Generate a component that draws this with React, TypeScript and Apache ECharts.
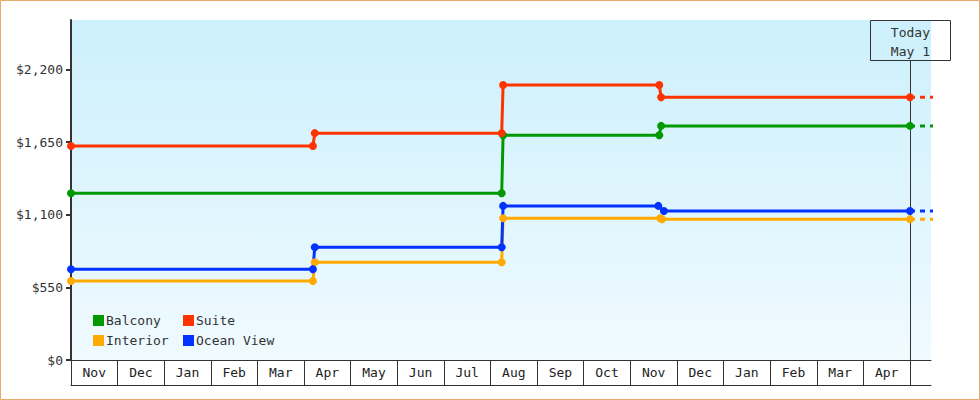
import React, { useEffect, useRef } from "react";
import * as echarts from "echarts";

// month boxes along the bottom, Nov (year 1) .. Apr (year 3); x values are months since Nov 1
const monthLabels = ["Nov", "Dec", "Jan", "Feb", "Mar", "Apr", "May", "Jun", "Jul", "Aug", "Sep", "Oct", "Nov", "Dec", "Jan", "Feb", "Mar", "Apr"];
const monthTicks = monthLabels.map((_, i) => i).concat([monthLabels.length]);
const yTicks = [0, 550, 1100, 1650, 2200];
const todayX = 18;
const todayLines = ["Today", "May 1"];

const balcony = [[0, 1263], [9.24, 1263], [9.27, 1702], [12.62, 1702], [12.66, 1773], [18, 1773]];
const suite = [[0, 1621], [5.19, 1621], [5.23, 1718], [9.24, 1718], [9.27, 2083], [12.62, 2083], [12.66, 1990], [18, 1990]];
const interior = [[0, 598], [5.19, 598], [5.23, 740], [9.24, 740], [9.27, 1073], [12.64, 1073], [12.68, 1066], [18, 1066]];
const oceanView = [[0, 687], [5.19, 687], [5.23, 854], [9.24, 854], [9.27, 1167], [12.6, 1167], [12.72, 1128], [18, 1128]];

const FONT = "DejaVu Sans Mono";

const lines = [
  { name: "Balcony", color: "#009900", data: balcony },
  { name: "Suite", color: "#ff3300", data: suite },
  { name: "Interior", color: "#ffaa00", data: interior },
  { name: "Ocean View", color: "#0033ff", data: oceanView },
];

const App: React.FC = () => {
  const chartRef = useRef<HTMLDivElement>(null);

  useEffect(() => {
    if (!chartRef.current) return;
    const chart = echarts.init(chartRef.current, null, { renderer: "svg" });

    const xMax = 18.45;
    const solid = lines.map((l) => ({
      name: l.name,
      type: "line",
      color: l.color,
      data: l.data,
      symbol: "circle",
      symbolSize: 8,
      showAllSymbol: true,
      lineStyle: { width: 3, color: l.color },
      itemStyle: { color: l.color },
      z: 3,
    }));
    const dashed = lines.map((l) => {
      const last = l.data[l.data.length - 1];
      return {
        name: l.name + " (projected)",
        type: "line",
        data: [last, [last[0] + 1, last[1]]],
        symbol: "none",
        silent: true,
        lineStyle: { width: 3, color: l.color, type: [5, 5] },
        z: 2,
      };
    });

    const legendBase = {
      orient: "vertical",
      top: 309,
      itemWidth: 11,
      itemHeight: 11,
      itemGap: 7,
      icon: "rect",
      textStyle: { fontFamily: FONT, fontSize: 13, color: "#333", lineHeight: 13, padding: [0, 0, 0, -3] },
    };

    chart.setOption({
      animation: false,
      grid: {
        left: 71,
        right: 49,
        top: 20,
        bottom: 40,
        show: true,
        borderWidth: 0,
        backgroundColor: new echarts.graphic.LinearGradient(0, 0, 0, 1, [
          { offset: 0, color: "#ccf0fc" },
          { offset: 1, color: "#f0faff" },
        ]),
      },
      legend: [
        { ...legendBase, left: 88, data: ["Balcony", "Interior"] },
        { ...legendBase, left: 178, data: ["Suite", "Ocean View"] },
      ],
      xAxis: [
        {
          type: "value",
          min: 0,
          max: xMax,
          axisLine: { show: true, lineStyle: { color: "#333", width: 1 } },
          axisTick: { show: true, length: 25, customValues: monthTicks, lineStyle: { color: "#333", width: 1 } },
          axisLabel: {
            customValues: monthLabels.map((_, i) => i),
            align: "left",
            margin: 6,
            formatter: (v: number) => `{m|${monthLabels[Math.round(v)] ?? ""}}`,
            rich: {
              m: { width: 46.6, align: "center", fontFamily: FONT, fontSize: 13, color: "#222" },
            },
          },
          splitLine: { show: false },
        },
        {
          type: "value",
          min: 0,
          max: xMax,
          position: "bottom",
          offset: 25,
          axisLine: { show: true, lineStyle: { color: "#333", width: 1 } },
          axisTick: { show: false },
          axisLabel: { show: false },
          splitLine: { show: false },
        },
      ],
      yAxis: {
        type: "value",
        min: 0,
        max: 2575,
        axisLine: { show: true, lineStyle: { color: "#333", width: 2 } },
        axisTick: { show: true, length: 5, customValues: yTicks, lineStyle: { color: "#333", width: 2 } },
        axisLabel: {
          customValues: yTicks,
          margin: 8,
          fontFamily: FONT,
          fontSize: 13,
          color: "#333",
          formatter: (v: number) => "$" + v.toLocaleString("en-US"),
        },
        splitLine: { show: false },
      },
      series: [...dashed, ...solid],
    });

    const tx = Math.round(chart.convertToPixel({ xAxisIndex: 0 }, todayX) as number);
    chart.setOption({
      graphic: [
        {
          id: "frame",
          type: "rect",
          shape: { x: 0.5, y: 0.5, width: 979, height: 399 },
          style: { fill: "none", stroke: "#e8a96a", lineWidth: 1 },
          silent: true,
        },
        {
          id: "todayLine",
          type: "line",
          z: 1,
          shape: { x1: tx + 0.5, y1: 60, x2: tx + 0.5, y2: 385 },
          style: { stroke: "#333", lineWidth: 1 },
          silent: true,
        },
        {
          id: "todayBox",
          type: "rect",
          z: 1,
          shape: { x: tx - 39.5, y: 20.5, width: 80, height: 40 },
          style: { fill: "none", stroke: "#333", lineWidth: 1 },
          silent: true,
        },
        {
          id: "todayText",
          type: "text",
          z: 1,
          x: tx + 20,
          y: 23,
          style: {
            text: todayLines.join("\n"),
            align: "right",
            verticalAlign: "top",
            fontFamily: FONT,
            fontSize: 13,
            lineHeight: 19,
            fill: "#333",
          },
          silent: true,
        },
      ],
    });

    return () => {
      chart.dispose();
    };
  }, []);

  return (
    <div
      ref={chartRef}
      style={{ position: "absolute", left: 0, top: 0, width: 980, height: 400, background: "#fff" }}
    />
  );
};

export default App;
